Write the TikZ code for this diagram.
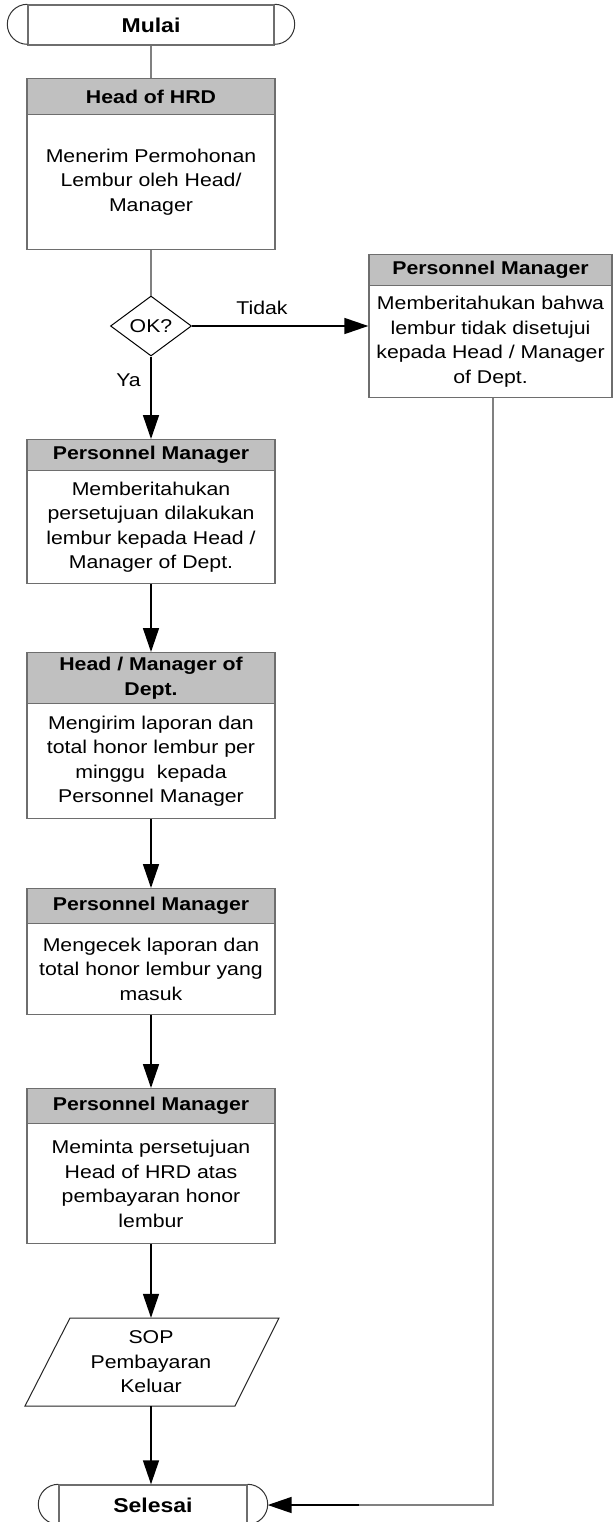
\documentclass[tikz,border=0pt]{standalone}
\usepackage{fontspec}
\newfontfamily\diafont[FakeStretch=1.15]{Liberation Sans}
\usetikzlibrary{arrows.meta,shapes.geometric,calc}
\definecolor{bord}{HTML}{6E6E6E}
\definecolor{hdr}{HTML}{C0C0C0}
\definecolor{conn}{HTML}{808080}
\begin{document}
\begin{tikzpicture}[x=1pt,y=-1pt,
  txt/.style={font=\diafont\fontsize{18.5}{24.5}\selectfont, align=center, inner sep=0pt},
  hdrbox/.style={txt, draw=bord, line width=1.4pt, fill=hdr, font=\diafont\bfseries\fontsize{18.5}{24.5}\selectfont, minimum width=248pt, anchor=north},
  bodybox/.style={txt, draw=bord, line width=1.4pt, fill=white, minimum width=248pt, anchor=north},
  termbox/.style={txt, draw=bord, line width=1.4pt, font=\diafont\bfseries\fontsize{20}{24}\selectfont},
  arcline/.style={draw=black!80, line width=1pt},
  gline/.style={draw=conn, line width=1.6pt},
  arr/.style={draw=black, line width=1.6pt, -{Triangle[length=24pt,width=16pt]}},
]
\useasboundingbox (0,0) rectangle (614,1522);
\fill[white] (0,0) rectangle (614,1522);

% terminals
\node[termbox, minimum width=246pt, minimum height=40pt] (mulai) at (151,25) {Mulai};
\draw[arcline] (mulai.north east) arc[start angle=90,end angle=-90,radius=20pt];
\draw[arcline] (mulai.north west) arc[start angle=90,end angle=270,radius=20pt];

\node[termbox, minimum width=188pt, minimum height=40pt] (selesai) at (153,1505) {Selesai};
\draw[arcline] (selesai.north east) arc[start angle=90,end angle=-90,radius=20pt];
\draw[arcline] (selesai.north west) arc[start angle=90,end angle=270,radius=20pt];

% box 1
\node[hdrbox, minimum height=36pt] (h1) at (151,78) {Head of HRD};
\node[bodybox, minimum height=135pt] (b1) at (151,114) {Menerim Permohonan\\Lembur oleh Head/\\Manager};

% decision
\node[diamond, draw=black, line width=1pt, minimum width=81pt, minimum height=60pt, txt] (dec) at (151,326) {OK?};
\node[txt] (tidak) at (262,308) {Tidak};
\node[txt] (ya) at (128.5,380) {Ya};

% right box
\node[hdrbox, minimum width=243pt, minimum height=31pt] (h6) at (490.5,254) {Personnel Manager};
\node[bodybox, minimum width=243pt, minimum height=112pt] (b6) at (490.5,285) {Memberitahukan bahwa\\lembur tidak disetujui\\kepada Head / Manager\\of Dept.};

% box 2
\node[hdrbox, minimum height=31pt] (h2) at (151,439) {Personnel Manager};
\node[bodybox, minimum height=113pt] (b2) at (151,470) {Memberitahukan\\persetujuan dilakukan\\lembur kepada Head /\\Manager of Dept.};

% box 3
\node[hdrbox, minimum height=51pt] (h3) at (151,652) {Head / Manager of\\Dept.};
\node[bodybox, minimum height=115pt] (b3) at (151,703) {Mengirim laporan dan\\total honor lembur per\\minggu\ \ kepada\\Personnel Manager};

% box 4
\node[hdrbox, minimum height=35pt] (h4) at (151,888) {Personnel Manager};
\node[bodybox, minimum height=91pt] (b4) at (151,923) {Mengecek laporan dan\\total honor lembur yang\\masuk};

% box 5
\node[hdrbox, minimum height=35pt] (h5) at (151,1088) {Personnel Manager};
\node[bodybox, minimum height=120pt] (b5) at (151,1123) {Meminta persetujuan\\Head of HRD atas\\pembayaran honor\\lembur};

% data (parallelogram)
\draw[draw=black!85, line width=1pt] (70,1318) -- (279,1318) -- (235,1406) -- (25,1406) -- cycle;
\node[txt, minimum width=160pt, minimum height=88pt] (sop) at (151,1362) {SOP\\Pembayaran\\Keluar};

% connectors
\draw[gline] (mulai.south) -- (h1.north);
\draw[gline] (b1.south) -- (dec.north);
\draw[arr] (dec.east) -- (dec.east -| h6.west);
\draw[arr] (dec.south) -- (h2.north);
\draw[arr] (b2.south) -- (h3.north);
\draw[arr] (b3.south) -- (h4.north);
\draw[arr] (b4.south) -- (h5.north);
\draw[arr] (b5.south) -- (sop.north);
\draw[arr] (sop.south) -- (sop.south |- selesai.north);
\coordinate (brk) at (359,1505);
\coordinate (rtop) at ($(b6.south)+(2.5,0)$);
\draw[gline] (rtop) |- (brk);
\draw[arr] (brk) -- ($(selesai.east)+(20,0)$);
\end{tikzpicture}
\end{document}
